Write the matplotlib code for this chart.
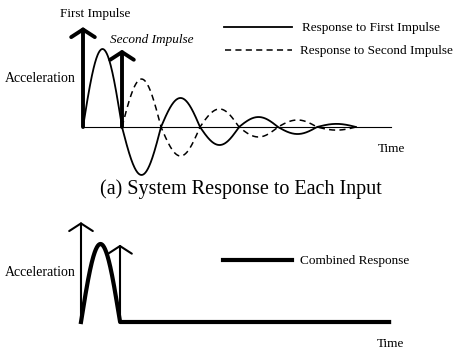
import numpy as np
import matplotlib
matplotlib.use("Agg")
import matplotlib.pyplot as plt

W, H = 457, 351

# Half-cycle amplitudes of each damped response (normalised to the first peak)
first_lobes = [1.0, -0.615, 0.372, -0.231, 0.128, -0.09, 0.04]
second_lobes = [0.615, -0.372, 0.231, -0.128, 0.09, -0.04]
# Start of each response, in half-periods of the oscillation
first_start = 0.0
second_start = 1.0
# Input impulses: time and magnitude
impulse_times = [0.0, 1.0]
impulse_heights = [1.28, 0.99]
t_end = 7.9

SERIF = ["Liberation Serif", "DejaVu Serif"]
DASH = (4.0, 2.8)

fig = plt.figure(figsize=(W / 100, H / 100), dpi=100)
fig.patch.set_facecolor("white")

PX_T, PX_A = 39.0, 78.0  # pixels per half-period, pixels per amplitude unit


def make_axes(x0, y0):
    ax = fig.add_axes([0, 0, 1, 1])
    ax.set_xlim(-x0 / PX_T, (W - x0) / PX_T)
    ax.set_ylim(-(H - y0) / PX_A, y0 / PX_A)
    ax.axis("off")
    return ax


def response(t, start, lobes):
    y = np.zeros_like(t)
    for k, a in enumerate(lobes):
        lo = start + k
        m = (t >= lo) & (t <= lo + 1)
        y[m] = a * np.sin(np.pi * (t[m] - lo))
    return y


def impulse(ax, t, h, lw):
    ax.annotate("", xy=(t, h), xytext=(t, 0),
                arrowprops=dict(arrowstyle="->,head_length=0.55,head_width=0.85",
                                lw=lw, color="black", shrinkA=0, shrinkB=0,
                                mutation_scale=10))


def label(x, y, s, size=9.5, **kw):
    fig.text(x / W, 1 - y / H, s, fontsize=size, family=SERIF,
             va="center", ha=kw.pop("ha", "left"), **kw)


# ---- (a) responses to each input ----
ax1 = make_axes(83, 127)
t1 = np.linspace(first_start, first_start + len(first_lobes), 800)
t2 = np.linspace(second_start, second_start + len(second_lobes), 700)
ax1.plot([0, t_end], [0, 0], color="black", lw=0.8)
ax1.plot(t1, response(t1, first_start, first_lobes), color="black", lw=1.3)
ax1.plot(t2, response(t2, second_start, second_lobes), color="black", lw=1.1,
         dashes=DASH)
for t, h in zip(impulse_times, impulse_heights):
    impulse(ax1, t, h, 2.8)

label(60, 14, "First Impulse")
label(110, 40, "Second Impulse", style="italic")
label(5, 79, "Acceleration", size=10)
label(378, 149, "Time")
fig.add_artist(plt.Line2D([224 / W, 292 / W], [1 - 27 / H] * 2, color="black", lw=1.3))
fig.add_artist(plt.Line2D([225 / W, 292 / W], [1 - 50 / H] * 2, color="black", lw=1.1,
                          dashes=DASH))
label(302, 28, "Response to First Impulse")
label(300, 51, "Response to Second Impulse")

label(241, 189, "(a) System Response to Each Input", size=14.5, ha="center")

# ---- combined response ----
ax2 = make_axes(81, 322)
tc = np.linspace(0, t_end, 1600)
combined = response(tc, first_start, first_lobes) + response(tc, second_start, second_lobes)
ax2.plot(tc, combined, color="black", lw=3.0, solid_joinstyle="round")
for t, h in zip(impulse_times, impulse_heights):
    impulse(ax2, t, h, 1.5)

label(5, 273, "Acceleration", size=10)
label(377, 344, "Time")
fig.add_artist(plt.Line2D([223 / W, 292 / W], [1 - 260 / H] * 2, color="black", lw=3.0))
label(300, 261, "Combined Response")

fig.savefig("out.png", dpi=100, facecolor="white")
